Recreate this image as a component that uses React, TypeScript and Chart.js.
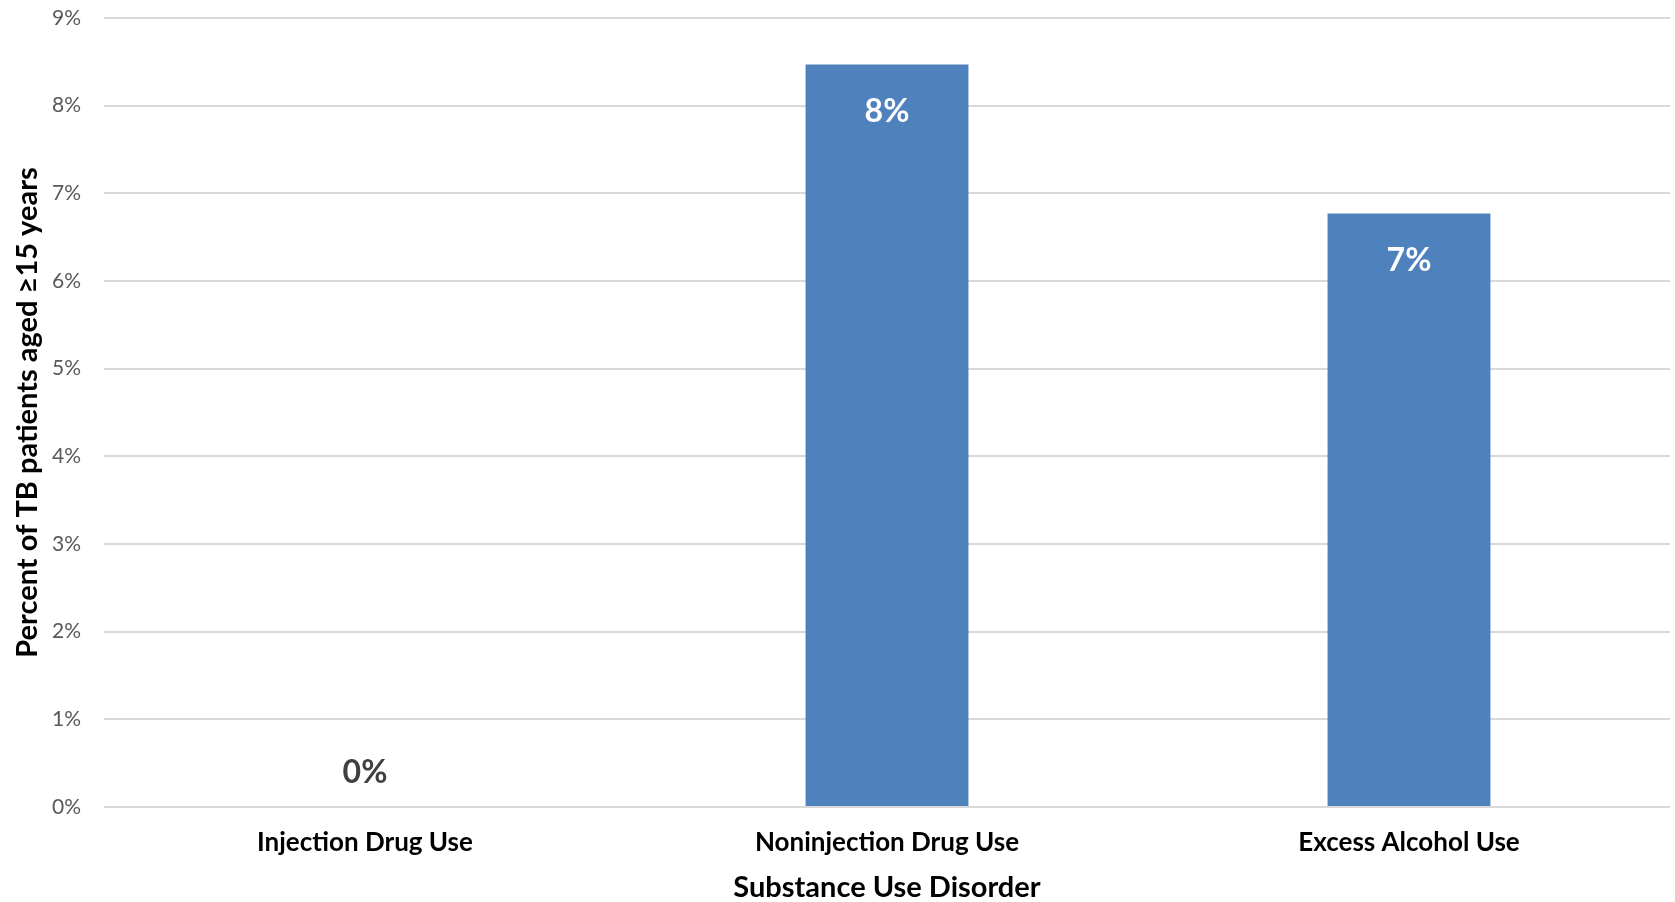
import React, { useEffect, useRef } from "react";
import { Chart, registerables } from "chart.js";

Chart.register(...registerables);

const categories = ["Injection Drug Use", "Noninjection Drug Use", "Excess Alcohol Use"];
const percentValues = [0, 8.47, 6.77];
const valueLabels = ["0%", "8%", "7%"];
const yTickMax = 9;

const FONT = "Lato, 'Open Sans', sans-serif";

const labelPlugin = {
  id: "barValueLabels",
  afterDatasetsDraw(chart: any) {
    const ctx = chart.ctx;
    const meta = chart.getDatasetMeta(0);
    ctx.save();
    ctx.font = `bold 32px ${FONT}`;
    ctx.textAlign = "center";
    ctx.textBaseline = "middle";
    meta.data.forEach((el: any, i: number) => {
      const v = percentValues[i];
      if (v > 0) {
        ctx.fillStyle = "#ffffff";
        ctx.fillText(valueLabels[i], el.x, el.y + 47);
      } else {
        ctx.fillStyle = "#404040";
        ctx.fillText(valueLabels[i], el.x, el.base - 34);
      }
    });
    ctx.restore();
  },
};

export default function App() {
  const ref = useRef<HTMLCanvasElement | null>(null);
  useEffect(() => {
    if (!ref.current) return;
    const chart = new Chart(ref.current, {
      type: "bar",
      data: {
        labels: categories,
        datasets: [
          {
            data: percentValues,
            backgroundColor: "#4F81BD",
            borderWidth: 0,
            barPercentage: 0.624,
            categoryPercentage: 0.5,
          },
        ],
      },
      options: {
        animation: false,
        responsive: true,
        maintainAspectRatio: false,
        layout: { padding: { top: 18, right: 5, left: 0, bottom: 0 } },
        plugins: { legend: { display: false }, tooltip: { enabled: false } },
        scales: {
          x: {
            grid: { display: false, drawTicks: false },
            border: { display: false },
            ticks: {
              color: "#000000",
              font: { family: FONT, size: 26, weight: "bold" },
              padding: 20,
            },
            title: {
              display: true,
              text: "Substance Use Disorder",
              color: "#000000",
              font: { family: FONT, size: 29, weight: "bold", lineHeight: 1 },
              padding: { top: 0, bottom: 0 },
            },
            afterFit(scale: any) {
              scale.height = 95;
            },
          },
          y: {
            min: 0,
            max: yTickMax,
            grid: { color: "#d9d9d9", lineWidth: 2, drawTicks: false },
            border: { display: false },
            ticks: {
              stepSize: 1,
              color: "#595959",
              font: { family: FONT, size: 21 },
              padding: 23,
              callback: (v: any) => `${v}%`,
            },
            title: {
              display: true,
              text: "Percent of TB patients aged ≥15 years",
              color: "#000000",
              font: { family: FONT, size: 29, weight: "bold" },
              padding: { top: 10, bottom: 0 },
            },
            afterFit(scale: any) {
              scale.width = 104;
              scale.paddingTop = 18;
              scale.paddingBottom = 0;
            },
          },
        },
      },
      plugins: [labelPlugin],
    });
    return () => chart.destroy();
  }, []);
  return (
    <div style={{ position: "fixed", left: 0, top: 0, width: 1675, height: 902, background: "#fff" }}>
      <canvas ref={ref} />
    </div>
  );
}
